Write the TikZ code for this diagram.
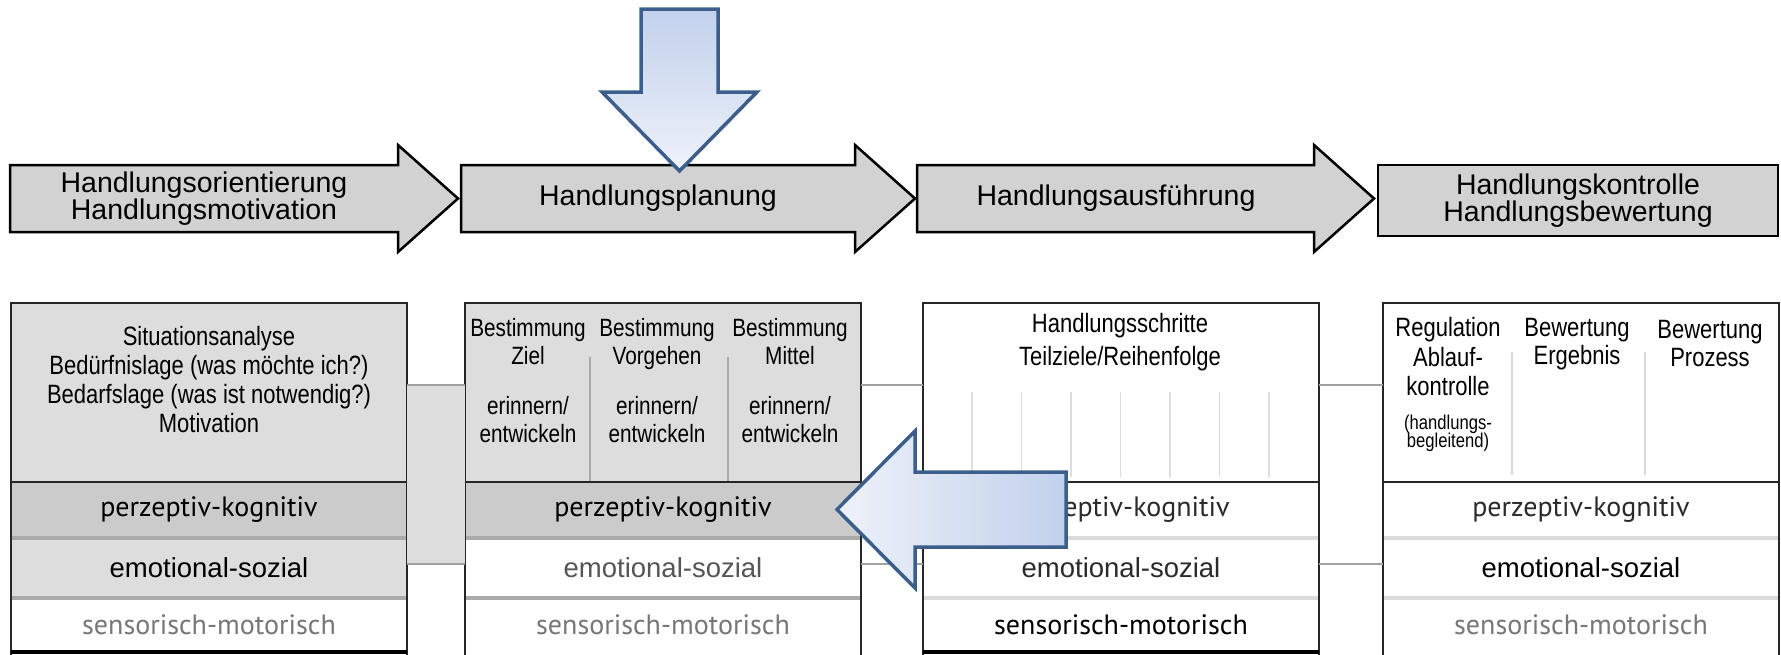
\documentclass[tikz,border=0pt]{standalone}
\usepackage{fontspec}
\setmainfont{Liberation Sans}
\newfontfamily\narrowsf[FakeStretch=0.83]{Liberation Sans}
\newfontfamily\bandsf{PT Sans}
\usetikzlibrary{positioning}
\definecolor{arrowgray}{HTML}{D2D2D2}
\definecolor{hdrgray}{HTML}{DDDDDD}
\definecolor{bandgray}{HTML}{CBCBCB}
\definecolor{sepgray}{HTML}{AAAAAA}
\definecolor{seplight}{HTML}{DADADA}
\definecolor{linkgray}{HTML}{A0A0A0}
\definecolor{tickgray}{HTML}{DDDDDD}
\definecolor{textgray}{HTML}{777777}
\definecolor{emogray}{HTML}{555555}
\definecolor{darktext}{HTML}{2A2A2A}
\definecolor{blueline}{HTML}{3B5E8C}
\definecolor{bluefill}{HTML}{C2D1EC}
\definecolor{bluetip}{HTML}{EEF2FA}

\begin{document}
\begin{tikzpicture}[x=1pt, y=-1pt,
		phase/.style={draw=black, line width=2.5pt, fill=arrowgray, line join=miter},
		phasetext/.style={align=center, font=\fontsize{28.5}{25}\selectfont},
		hdrbox/.style={anchor=north west, minimum width=396pt, minimum height=179pt, inner sep=0pt, outer sep=0pt},
		bandbox/.style={anchor=north west, minimum width=396pt, inner sep=0pt, outer sep=0pt},
		hdrtext/.style={align=center, font=\narrowsf\fontsize{26.5}{29}\selectfont},
		coltext/.style={align=center, font=\narrowsf\fontsize{25}{27.5}\selectfont},
		smalltext/.style={align=center, inner sep=0pt, font=\narrowsf\fontsize{20}{15}\selectfont},
		boxline/.style={draw=black!85, line width=2pt},
		sepline/.style={line width=4pt},
		linkline/.style={draw=linkgray, line width=2pt},
		bluearrow/.style={draw=blueline, line width=3.5pt, line join=miter}]
		\useasboundingbox (0,0) rectangle (1781,654);

		% Draw the phase arrows
		\foreach \l/\r in {10/398, 461/855, 917/1314}
			\draw[phase] (\l,165) -- (\r,165) -- (\r,145) -- (\r+60,198.5) -- (\r,252) -- (\r,232) -- (\l,232) -- cycle;
		\node[phasetext] (orient) at (204,198.5) {Handlungsorientierung\\Handlungsmotivation};
		\node[phasetext] (plan) at (658,198.5) {Handlungsplanung};
		\node[phasetext] (ausf) at (1116,198.5) {Handlungsausführung};
		\node[phase, phasetext, minimum width=400pt, minimum height=71pt, inner sep=0pt] (kontr) at (1578,200.5) {Handlungskontrolle\\Handlungsbewertung};

		% Blue arrow from above
		\draw[bluearrow, top color=bluefill, middle color=bluefill, bottom color=bluetip] (641,9) -- (718,9) -- (718,92) -- (757,92) -- (679.5,171) -- (602,92) -- (641,92) -- cycle;

		% Draw the four boxes with their bands
		\foreach \n/\l/\hf/\pf/\ef/\sc/\pc/\ec/\mc in {
				1/11/hdrgray/bandgray/hdrgray/sepgray/black/black/textgray,
				2/465/hdrgray/bandgray/white/sepgray/black/emogray/textgray,
				3/923/white/white/white/seplight/darktext/darktext/black,
				4/1383/white/white/white/seplight/darktext/black/textgray}
		{
			\node[hdrbox, fill=\hf] (hdr\n) at (\l,303) {};
			\node[bandbox, fill=\pf, text=\pc, minimum height=56pt, font=\bandsf\fontsize{28}{30}\selectfont] (perz\n) at (\l,482) {perzeptiv-kognitiv};
			\node[bandbox, fill=\ef, text=\ec, minimum height=60pt, font=\fontsize{27.5}{30}\selectfont] (emo\n) at (\l,538) {emotional-sozial};
			\node[bandbox, fill=white, text=\mc, minimum height=54pt, font=\bandsf\fontsize{28}{30}\selectfont] (sens\n) at (\l,598) {sensorisch-motorisch};
			\draw[sepline, draw=\sc] (perz\n.south west) -- (perz\n.south east);
			\draw[sepline, draw=\sc] (emo\n.south west) -- (emo\n.south east);
			\draw[boxline] ([yshift=-4pt]sens\n.south west) -- (hdr\n.north west) -- (hdr\n.north east) -- ([yshift=-4pt]sens\n.south east);
			\draw[boxline] (hdr\n.south west) -- (hdr\n.south east);
		}
		\draw[line width=3.5pt] (sens1.south west) -- (sens1.south east);
		\draw[line width=3.5pt] (sens3.south west) -- (sens3.south east);

		% Links between the boxes
		\fill[hdrgray] (hdr1.east |- 0,385) rectangle (hdr2.west |- 0,564);
		\foreach \a/\b in {1/2, 2/3, 3/4}
		{
			\draw[linkline] (hdr\a.east |- 0,385) -- (hdr\b.west |- 0,385);
			\draw[linkline] (hdr\a.east |- 0,564) -- (hdr\b.west |- 0,564);
		}

		% Header texts
		\node[hdrtext] (situation) at (209,380) {Situationsanalyse\\Bedürfnislage (was möchte ich?)\\Bedarfslage (was ist notwendig?)\\Motivation};

		\foreach \x in {590, 728}
			\draw[line width=1.5pt, draw=sepgray] (\x,357) -- (\x,481);
		\node[coltext] (ziel) at (528,380.5) {Bestimmung\\Ziel\\[23pt]erinnern/\\entwickeln};
		\node[coltext] (vorgehen) at (657,380.5) {Bestimmung\\Vorgehen\\[23pt]erinnern/\\entwickeln};
		\node[coltext] (mittel) at (790,380.5) {Bestimmung\\Mittel\\[23pt]erinnern/\\entwickeln};

		\node[hdrtext, font=\narrowsf\fontsize{26.5}{33}\selectfont] (schritte) at (1120,342.5) {Handlungsschritte\\Teilziele/Reihenfolge};
		\foreach \k in {0,...,6}
			\draw[line width=1.5pt, draw=tickgray] (972+49.5*\k,392) -- (972+49.5*\k,477);

		\foreach \x in {1512, 1645}
			\draw[line width=1.5pt, draw=seplight] (\x,352) -- (\x,475);
		\node[hdrtext, font=\narrowsf\fontsize{26.5}{29.5}\selectfont] (ablauf) at (1448,357) {Regulation\\Ablauf-\\kontrolle};
		\node[smalltext, below=15pt of ablauf] (beglt) {(handlungs-\\[-2pt]begleitend)};
		\node[coltext, font=\narrowsf\fontsize{26.5}{28}\selectfont] (ergebnis) at (1577,344) {Bewertung\\Ergebnis};
		\node[coltext, font=\narrowsf\fontsize{26.5}{28}\selectfont] (prozess) at (1710,344) {Bewertung\\Prozess};

		% Blue arrow back to planning
		\draw[bluearrow, left color=bluetip, middle color=bluefill, right color=bluefill] (1066,472) -- (915,472) -- (915,431) -- (837,509.5) -- (915,588) -- (915,547) -- (1066,547) -- cycle;
	\end{tikzpicture}
\end{document}
